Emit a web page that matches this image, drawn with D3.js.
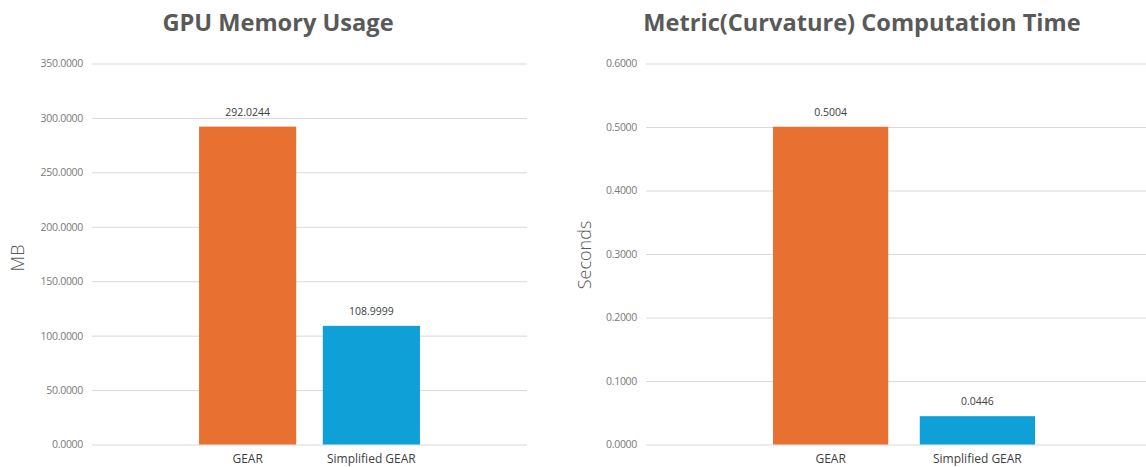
<!DOCTYPE html>
<html><head><meta charset="utf-8">
<script src="https://cdn.jsdelivr.net/npm/d3@7"></script>
<style>
html,body{margin:0;padding:0;background:#fff;overflow:hidden}
svg{display:block;font-family:"Open Sans","Noto Sans",sans-serif}
</style></head>
<body>
<svg id="c" width="1146" height="467"></svg>
<script>
const categories = ["GEAR", "Simplified GEAR"];
const memoryValues = [292.0244, 108.9999];
const timeValues = [0.5004, 0.0446];
const memoryTicks = [0, 50, 100, 150, 200, 250, 300, 350];
const timeTicks = [0, 0.1, 0.2, 0.3, 0.4, 0.5, 0.6];
const colors = ["#E87132", "#0FA0D7"];

const svg = d3.select("#c");

function chart(o) {
  const g = svg.append("g");
  const x = d3.scaleBand().domain(categories).range([o.x0, o.x1])
    .paddingInner(0.215).paddingOuter(0.865);
  const y = d3.scaleLinear().domain([0, o.max]).range([o.y0, o.y1]);

  const grid = g.append("g").attr("transform", `translate(${o.x0},0)`)
    .call(d3.axisLeft(y).tickValues(o.ticks).tickSize(-(o.x1 - o.x0)).tickPadding(9)
      .tickFormat(d3.format(".4f")));
  grid.select(".domain").remove();
  grid.selectAll(".tick line").attr("stroke", "#d9d9d9").attr("stroke-width", 1);
  grid.selectAll(".tick text").attr("fill", "#7a7a7a").style("font-size", "10.5px")
    .style("font-family", "'Open Sans',sans-serif").attr("letter-spacing", "-0.3");

  g.selectAll("rect.bar").data(o.values).join("rect")
    .attr("x", (d, i) => x(categories[i]))
    .attr("width", x.bandwidth())
    .attr("y", d => y(d))
    .attr("height", d => y(0) - y(d))
    .attr("fill", (d, i) => colors[i]);

  g.selectAll("text.val").data(o.values).join("text")
    .attr("x", (d, i) => x(categories[i]) + x.bandwidth() / 2)
    .attr("y", d => y(d) - 11)
    .attr("text-anchor", "middle")
    .attr("fill", "#404040")
    .style("font-size", "10.5px")
    .text(d => d3.format(".4f")(d));

  const xa = g.append("g").attr("transform", `translate(0,${o.y0})`)
    .call(d3.axisBottom(x).tickSize(0).tickPadding(10));
  xa.select(".domain").remove();
  xa.selectAll(".tick text").attr("fill", "#404040").style("font-size", "12px")
    .style("font-family", "'Open Sans',sans-serif");

  g.append("text").attr("x", o.tx).attr("y", 31).attr("text-anchor", "middle")
    .attr("fill", "#595959").style("font-size", "23.6px").style("font-weight", "bold")
    .text(o.title);

  g.append("text").attr("transform", `translate(${o.ax},${o.ay}) rotate(-90)`)
    .attr("text-anchor", "middle").attr("fill", "#595959")
    .style("font-size", "18px").style("font-weight", "300")
    .text(o.axisTitle);
}

chart({x0: 92, x1: 527, y0: 444.5, y1: 63.5, max: 350, ticks: memoryTicks,
  values: memoryValues, title: "GPU Memory Usage", tx: 278,
  axisTitle: "MB", ax: 24, ay: 258});
chart({x0: 646, x1: 1162, y0: 444.5, y1: 63.5, max: 0.6, ticks: timeTicks,
  values: timeValues, title: "Metric(Curvature) Computation Time", tx: 862,
  axisTitle: "Seconds", ax: 591, ay: 255});
</script>
</body></html>
